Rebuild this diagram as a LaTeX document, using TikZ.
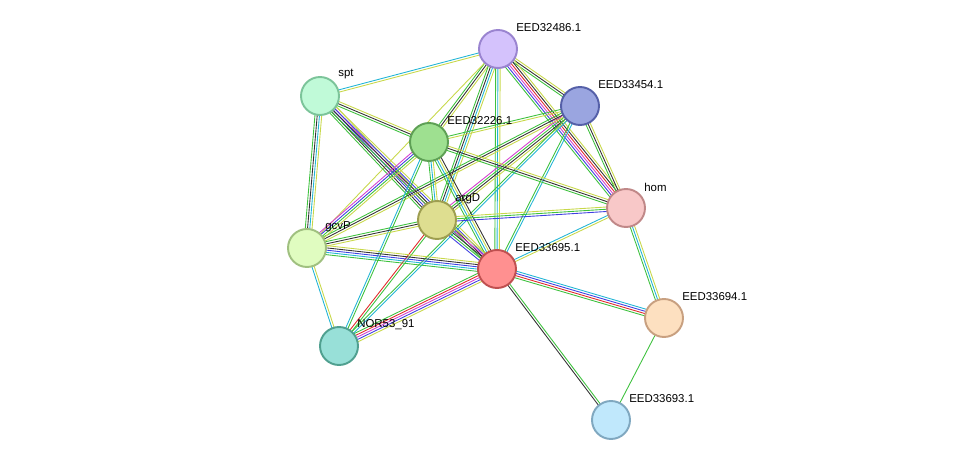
\documentclass[tikz,border=0pt]{standalone}
\usepackage{fontspec}
\setmainfont{Liberation Sans}
\usetikzlibrary{calc}
\pgfdeclarelayer{background}
\pgfsetlayers{background,main}
\definecolor{tmine}{HTML}{C8D84A}
\definecolor{dbase}{HTML}{22B5D5}
\definecolor{nbhood}{HTML}{3EC13E}
\definecolor{coexp}{HTML}{333333}
\definecolor{exper}{HTML}{D43FCF}
\definecolor{cooc}{HTML}{3F3FE0}
\definecolor{fusion}{HTML}{E02A2A}
\tikzset{
  prot/.style={circle, minimum size=0.76cm, line width=1.1pt},
  plabel/.style={anchor=west, inner sep=0pt, font=\fontsize{6.5}{8}\selectfont},
  link/.style={line width=0.5pt}
}
% edge of several parallel evidence lines
\newcommand\ppiedge[4]{%
  \foreach \c [count=\i] in {#4} {
    \pgfmathsetmacro\o{(\i-(#3+1)/2)*0.045}
    \draw[link,\c] ($(#1.center)!\o cm!90:(#2.center)$) -- ($(#2.center)!\o cm!-90:(#1.center)$);
  }}
\begin{document}
\begin{tikzpicture}
\useasboundingbox (0,0) rectangle (19.5,9.32);

\node[prot, fill={rgb,255:red,212;green,194;blue,252}, draw={rgb,255:red,154;green,132;blue,208}] (e32486) at (9.96,8.34) {};
\node[prot, fill={rgb,255:red,192;green,250;blue,216}, draw={rgb,255:red,124;green,196;blue,154}] (spt) at (6.4,7.4) {};
\node[prot, fill={rgb,255:red,154;green,165;blue,224}, draw={rgb,255:red,85;green,96;blue,168}] (e33454) at (11.6,7.2) {};
\node[prot, fill={rgb,255:red,158;green,224;blue,144}, draw={rgb,255:red,94;green,160;blue,85}] (e32226) at (8.58,6.48) {};
\node[prot, fill={rgb,255:red,222;green,222;blue,144}, draw={rgb,255:red,158;green,158;blue,80}] (argD) at (8.74,4.92) {};
\node[prot, fill={rgb,255:red,248;green,200;blue,200}, draw={rgb,255:red,192;green,136;blue,136}] (hom) at (12.52,5.16) {};
\node[prot, fill={rgb,255:red,224;green,252;blue,192}, draw={rgb,255:red,160;green,192;blue,128}] (gcvP) at (6.14,4.36) {};
\node[prot, fill={rgb,255:red,255;green,144;blue,144}, draw={rgb,255:red,192;green,80;blue,80}] (e33695) at (9.94,3.94) {};
\node[prot, fill={rgb,255:red,253;green,224;blue,192}, draw={rgb,255:red,200;green,160;blue,128}] (e33694) at (13.28,2.96) {};
\node[prot, fill={rgb,255:red,152;green,224;blue,216}, draw={rgb,255:red,80;green,160;blue,144}] (nor) at (6.78,2.4) {};
\node[prot, fill={rgb,255:red,192;green,232;blue,252}, draw={rgb,255:red,128;green,168;blue,192}] (e33693) at (12.22,0.92) {};

\node[plabel] (l32486) at (10.32,8.76) {EED32486.1};
\node[plabel] (lspt) at (6.76,7.84) {spt};
\node[plabel] (l33454) at (11.96,7.62) {EED33454.1};
\node[plabel] (l32226) at (8.94,6.9) {EED32226.1};
\node[plabel] (largD) at (9.1,5.34) {argD};
\node[plabel] (lhom) at (12.88,5.58) {hom};
\node[plabel] (lgcvP) at (6.5,4.78) {gcvP};
\node[plabel] (l33695) at (10.3,4.36) {EED33695.1};
\node[plabel] (l33694) at (13.64,3.38) {EED33694.1};
\node[plabel] (lnor) at (7.14,2.82) {NOR53\_91};
\node[plabel] (l33693) at (12.58,1.34) {EED33693.1};

\begin{pgfonlayer}{background}
\ppiedge{e32486}{spt}{2}{dbase,tmine}
\ppiedge{e32486}{e33454}{3}{nbhood,coexp,tmine}
\ppiedge{e32486}{e32226}{3}{nbhood,coexp,tmine}
\ppiedge{e32486}{argD}{4}{nbhood,coexp,dbase,tmine}
\ppiedge{e32486}{e33695}{3}{nbhood,dbase,tmine}
\ppiedge{e32486}{hom}{6}{nbhood,cooc,exper,fusion,coexp,tmine}
\ppiedge{e32486}{gcvP}{1}{tmine}
\ppiedge{spt}{e32226}{3}{nbhood,coexp,tmine}
\ppiedge{spt}{argD}{5}{nbhood,coexp,cooc,exper,tmine}
\ppiedge{spt}{e33695}{4}{nbhood,coexp,cooc,tmine}
\ppiedge{spt}{gcvP}{4}{nbhood,coexp,dbase,tmine}
\ppiedge{e33454}{e32226}{2}{nbhood,tmine}
\ppiedge{e33454}{argD}{4}{exper,nbhood,coexp,tmine}
\ppiedge{e33454}{gcvP}{3}{nbhood,coexp,tmine}
\ppiedge{e33454}{hom}{3}{nbhood,coexp,tmine}
\ppiedge{e33454}{e33695}{2}{nbhood,dbase}
\ppiedge{e33454}{nor}{2}{nbhood,dbase}
\ppiedge{e32226}{argD}{3}{nbhood,dbase,tmine}
\ppiedge{e32226}{e33695}{4}{nbhood,dbase,tmine,coexp}
\ppiedge{e32226}{hom}{3}{nbhood,coexp,tmine}
\ppiedge{e32226}{gcvP}{4}{exper,cooc,nbhood,tmine}
\ppiedge{e32226}{nor}{2}{dbase,nbhood}
\ppiedge{argD}{hom}{3}{cooc,nbhood,tmine}
\ppiedge{argD}{gcvP}{3}{nbhood,coexp,tmine}
\ppiedge{argD}{e33695}{5}{cooc,nbhood,coexp,exper,tmine}
\ppiedge{argD}{nor}{2}{fusion,nbhood}
\ppiedge{hom}{e33695}{2}{dbase,tmine}
\ppiedge{hom}{e33694}{3}{nbhood,dbase,tmine}
\ppiedge{gcvP}{e33695}{5}{nbhood,dbase,cooc,coexp,tmine}
\ppiedge{gcvP}{nor}{2}{dbase,tmine}
\ppiedge{e33695}{e33694}{4}{nbhood,fusion,cooc,dbase}
\ppiedge{e33695}{nor}{5}{nbhood,fusion,exper,cooc,tmine}
\ppiedge{e33695}{e33693}{2}{coexp,nbhood}
\ppiedge{e33694}{e33693}{1}{nbhood}
\end{pgfonlayer}
\end{tikzpicture}
\end{document}
